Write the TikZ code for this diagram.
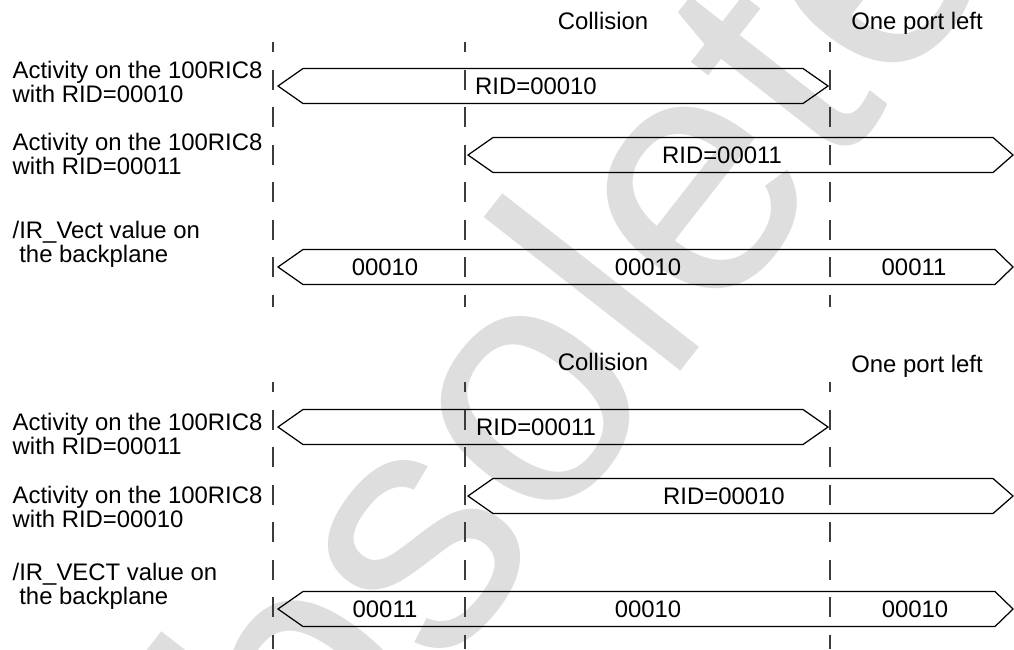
\documentclass[tikz,border=0pt]{standalone}
\usepackage{fontspec}
\setmainfont{Liberation Sans}
\definecolor{wmark}{RGB}{222,222,222}
\definecolor{dashgray}{RGB}{60,60,60}

\begin{document}
\begin{tikzpicture}[y=-1cm, every node/.style={font=\fontsize{6.8pt}{6.85pt}\selectfont, inner sep=0pt},
  bus/.style={line width=0.35pt},
  timeline/.style={draw=dashgray, line width=0.45pt, dash pattern=on 0.2cm off 0.175cm, dash phase=0.1cm},
  sig/.style={anchor=north west, align=left}]
 \useasboundingbox (0,0) rectangle (10.14,6.49);
 % watermark behind everything
 \node[anchor=base, rotate=52, text=wmark, font=\fontsize{98pt}{98pt}\selectfont] (wm) at (6.08,4.65) {obsolete};

 % markers
 \foreach \x in {2.73,4.65,8.30} {
  \draw[timeline] (\x,0.42) -- (\x,3.07);
  \draw[timeline] (\x,3.82) -- (\x,6.49);
 }

 % upper case
 \node[anchor=base] (col1) at (6.03,0.29) {Collision};
 \node[anchor=base] (opl1) at (9.17,0.29) {One port left};
 \node[sig] (la1) at (0.12,0.605) {Activity on the 100RIC8\\with RID=00010};
 \node[sig] (la2) at (0.12,1.325) {Activity on the 100RIC8\\with RID=00011};
 \node[sig] (la3) at (0.12,2.205) {/IR\_Vect value on\\\ the backplane};
 \draw[bus] (2.78,0.86) -- (3.03,0.685) -- (8.03,0.685) -- (8.28,0.86) -- (8.03,1.035) -- (3.03,1.035) -- cycle;
 \draw[bus] (4.68,1.55) -- (4.93,1.375) -- (9.93,1.375) -- (10.13,1.55) -- (9.93,1.725) -- (4.93,1.725) -- cycle;
 \draw[bus] (2.78,2.67) -- (3.03,2.495) -- (9.95,2.495) -- (10.13,2.67) -- (9.95,2.845) -- (3.03,2.845) -- cycle;
 \node[anchor=base] (ta1) at (5.36,0.945) {RID=00010};
 \node[anchor=base] (ta2) at (7.22,1.635) {RID=00011};
 \node[anchor=base] (ta3) at (3.85,2.755) {00010};
 \node[anchor=base] (ta4) at (6.48,2.755) {00010};
 \node[anchor=base] (ta5) at (9.14,2.755) {00011};

 % lower case
 \node[anchor=base] (col2) at (6.03,3.70) {Collision};
 \node[anchor=base] (opl2) at (9.17,3.72) {One port left};
 \node[sig] (lb1) at (0.12,4.125) {Activity on the 100RIC8\\with RID=00011};
 \node[sig] (lb2) at (0.12,4.855) {Activity on the 100RIC8\\with RID=00010};
 \node[sig] (lb3) at (0.12,5.625) {/IR\_VECT value on\\\ the backplane};
 \draw[bus] (2.78,4.27) -- (3.03,4.095) -- (8.03,4.095) -- (8.28,4.27) -- (8.03,4.445) -- (3.03,4.445) -- cycle;
 \draw[bus] (4.68,4.96) -- (4.93,4.785) -- (9.93,4.785) -- (10.13,4.96) -- (9.93,5.135) -- (4.93,5.135) -- cycle;
 \draw[bus] (2.78,6.09) -- (3.03,5.915) -- (9.95,5.915) -- (10.13,6.09) -- (9.95,6.265) -- (3.03,6.265) -- cycle;
 \node[anchor=base] (tb1) at (5.36,4.355) {RID=00011};
 \node[anchor=base] (tb2) at (7.24,5.045) {RID=00010};
 \node[anchor=base] (tb3) at (3.85,6.175) {00011};
 \node[anchor=base] (tb4) at (6.48,6.175) {00010};
 \node[anchor=base] (tb5) at (9.15,6.175) {00010};
\end{tikzpicture}
\end{document}
